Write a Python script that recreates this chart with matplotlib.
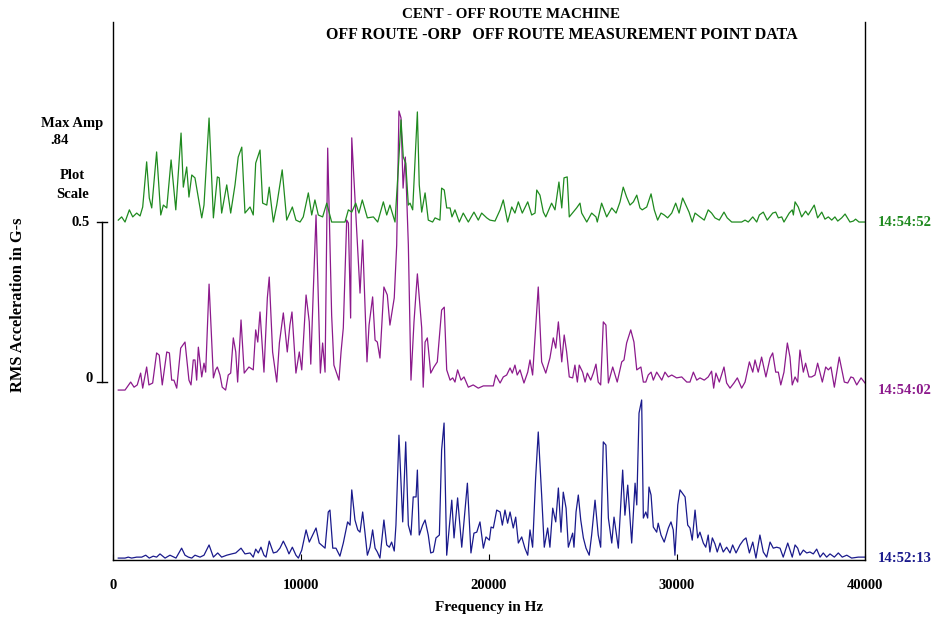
import numpy as np
import matplotlib
matplotlib.use("Agg")
import matplotlib.pyplot as plt
import matplotlib.transforms as mtransforms

plt.rcParams['font.family'] = ['Liberation Serif', 'DejaVu Serif']
plt.rcParams['font.weight'] = 'bold'

# spectrum taken at 14:54:52 (top trace)
freq_5452 = [280, 460, 640, 870, 1050, 1260, 1440, 1580, 1790, 1930, 2060, 2320, 2540, 2680, 2860, 3090,
             3340, 3620, 3740, 3920, 4040, 4190, 4360, 4540, 4720, 4840, 5110, 5340, 5550, 5650, 5780, 6050,
             6260, 6490, 6660, 6850, 7020, 7290, 7460, 7590, 7820, 7960, 8180, 8310, 8530, 8710, 9000, 9240,
             9540, 9730, 9950, 10120, 10390, 10570, 10740, 10920, 11150, 11370, 11630, 12070, 12340, 12520,
             12700, 12910, 13080, 13260, 13530, 13850, 14080, 14380, 14560, 14730, 15000, 15180, 15320, 15440,
             15570, 15710, 15800, 15940, 16190, 16290, 16420, 16600, 16770, 17000, 17130, 17390, 17480, 17620,
             17750, 17930, 18030, 18190, 18420, 18630, 18900, 19200, 19430, 19610, 19880, 20050, 20320, 20590,
             20760, 20990, 21210, 21380, 21560, 21770, 22060, 22270, 22450, 22540, 22710, 22890, 23020, 23330,
             23510, 23720, 23870, 23990, 24160, 24270, 24480, 24660, 24840, 24930, 25200, 25460, 25690, 25760,
             25990, 26260, 26530, 26760, 26970, 27140, 27320, 27500, 27680, 27860, 28030, 28150, 28390, 28620,
             28790, 28970, 29150, 29320, 29500, 29720, 29930, 30110, 30300, 30520, 30640, 30810, 30960, 31220,
             31450, 31660, 31840, 32020, 32250, 32500, 32670, 32910, 33440, 33620, 33790, 34030, 34240, 34380,
             34590, 34800, 35090, 35250, 35390, 35570, 35690, 35970, 36130, 36190, 36280, 36450, 36630, 36840,
             36980, 37300, 37480, 37700, 37870, 38050, 38230, 38400, 38550, 38760, 38940, 39200, 39380, 39500,
             39680, 40000]
amp_5452 = [0.006, 0.016, 0.0, 0.038, 0.016, 0.028, 0.019, 0.047, 0.188, 0.075, 0.044, 0.219, 0.022, 0.053,
            0.044, 0.194, 0.038, 0.278, 0.109, 0.172, 0.078, 0.147, 0.138, 0.075, 0.013, 0.053, 0.325, 0.013,
            0.141, 0.138, 0.028, 0.116, 0.028, 0.116, 0.203, 0.234, 0.028, 0.047, 0.022, 0.184, 0.225, 0.059,
            0.053, 0.109, 0.0, 0.053, 0.163, 0.006, 0.047, 0.006, 0.0, 0.016, 0.091, 0.022, 0.069, 0.022,
            0.016, 0.059, 0.0, 0.0, 0.0, 0.038, 0.031, 0.059, 0.028, 0.069, 0.013, 0.016, 0.0, 0.063, 0.022,
            0.053, 0.0, 0.172, 0.319, 0.203, 0.184, 0.053, 0.059, 0.038, 0.344, 0.116, 0.031, 0.091, 0.006,
            0.0, 0.013, 0.006, 0.106, 0.1, 0.044, 0.044, 0.016, 0.038, 0.0, 0.028, 0.0, 0.031, 0.006, 0.028,
            0.013, 0.006, 0.003, 0.038, 0.069, 0.0, 0.047, 0.028, 0.063, 0.028, 0.063, 0.022, 0.028, 0.1,
            0.084, 0.031, 0.016, 0.059, 0.038, 0.125, 0.044, 0.138, 0.141, 0.016, 0.031, 0.044, 0.059, 0.028,
            0.0, 0.028, 0.016, 0.0, 0.059, 0.016, 0.044, 0.028, 0.063, 0.109, 0.078, 0.053, 0.063, 0.084,
            0.044, 0.038, 0.047, 0.088, 0.038, 0.006, 0.028, 0.022, 0.013, 0.028, 0.059, 0.028, 0.075, 0.047,
            0.031, 0.0, 0.028, 0.016, 0.006, 0.038, 0.028, 0.013, 0.006, 0.031, 0.013, 0.0, 0.0, 0.006, 0.0,
            0.016, 0.0, 0.022, 0.031, 0.006, 0.028, 0.031, 0.013, 0.016, 0.0, 0.028, 0.038, 0.022, 0.063,
            0.047, 0.016, 0.034, 0.022, 0.053, 0.013, 0.031, 0.009, 0.016, 0.006, 0.016, 0.003, 0.013, 0.025,
            0.0, 0.003, 0.009, 0.0, 0.0]

# spectrum taken at 14:54:02 (middle trace)
freq_5402 = [280, 640, 940, 1120, 1290, 1470, 1580, 1790, 1910, 2110, 2320, 2460, 2620, 2860, 3000, 3120,
             3240, 3390, 3600, 3830, 4040, 4150, 4270, 4360, 4450, 4540, 4720, 4840, 4930, 5110, 5340, 5460,
             5550, 5690, 5810, 5990, 6130, 6260, 6400, 6530, 6630, 6810, 6980, 7230, 7460, 7590, 7700, 7820,
             8030, 8210, 8310, 8490, 8710, 8850, 9060, 9270, 9410, 9520, 9730, 9910, 10040, 10270, 10440,
             10520, 10650, 10800, 11030, 11150, 11280, 11420, 11630, 11750, 12020, 12130, 12250, 12430, 12520,
             12640, 12700, 12910, 13140, 13280, 13510, 13620, 13810, 13940, 14060, 14200, 14410, 14590, 14730,
             14960, 15090, 15210, 15320, 15430, 15550, 15710, 15850, 16010, 16190, 16420, 16500, 16600, 16720,
             16900, 17070, 17250, 17480, 17620, 17750, 17930, 18070, 18190, 18330, 18510, 18670, 18900, 19160,
             19430, 19700, 20050, 20230, 20360, 20590, 20760, 20940, 21120, 21240, 21380, 21500, 21650, 21860,
             22060, 22180, 22320, 22480, 22620, 22800, 23020, 23240, 23420, 23550, 23690, 23870, 24000, 24130,
             24270, 24450, 24570, 24700, 24800, 24980, 25110, 25230, 25410, 25550, 25690, 25810, 25940, 26080,
             26220, 26350, 26580, 26820, 27060, 27180, 27320, 27540, 27710, 27860, 28080, 28210, 28340, 28470,
             28620, 28740, 28920, 29190, 29360, 29540, 29720, 29980, 30250, 30520, 30690, 30870, 31050, 31220,
             31450, 31660, 31840, 31950, 32070, 32250, 32500, 32640, 32820, 33030, 33210, 33440, 33620, 33850,
             34030, 34150, 34320, 34500, 34730, 34950, 35090, 35250, 35390, 35520, 35690, 35870, 36010, 36130,
             36280, 36420, 36540, 36720, 36840, 37020, 37160, 37340, 37480, 37730, 37910, 38050, 38190, 38370,
             38630, 38900, 39080, 39250, 39380, 39560, 39790, 40000]
amp_5402 = [0.0, 0.0, 0.025, 0.009, 0.016, 0.053, 0.006, 0.072, 0.016, 0.022, 0.116, 0.109, 0.016, 0.119,
            0.116, 0.031, 0.031, 0.006, 0.131, 0.15, 0.031, 0.016, 0.094, 0.094, 0.031, 0.134, 0.041, 0.084,
            0.056, 0.331, 0.038, 0.063, 0.072, 0.047, 0.009, 0.0, 0.047, 0.053, 0.163, 0.119, 0.025, 0.219,
            0.053, 0.072, 0.063, 0.188, 0.15, 0.244, 0.056, 0.288, 0.353, 0.119, 0.025, 0.147, 0.241, 0.119,
            0.203, 0.244, 0.053, 0.119, 0.063, 0.297, 0.213, 0.081, 0.303, 0.547, 0.053, 0.147, 0.056, 0.756,
            0.234, 0.078, 0.031, 0.119, 0.194, 0.531, 0.522, 0.225, 0.788, 0.556, 0.303, 0.469, 0.088, 0.203,
            0.291, 0.156, 0.15, 0.1, 0.322, 0.297, 0.203, 0.288, 0.453, 0.872, 0.85, 0.631, 0.728, 0.453,
            0.031, 0.213, 0.363, 0.194, 0.009, 0.15, 0.163, 0.053, 0.072, 0.088, 0.25, 0.259, 0.063, 0.031,
            0.038, 0.025, 0.063, 0.031, 0.041, 0.009, 0.016, 0.006, 0.013, 0.013, 0.013, 0.047, 0.022, 0.041,
            0.047, 0.069, 0.053, 0.078, 0.047, 0.063, 0.022, 0.056, 0.094, 0.047, 0.194, 0.322, 0.088, 0.053,
            0.1, 0.163, 0.131, 0.213, 0.088, 0.172, 0.119, 0.041, 0.038, 0.078, 0.025, 0.078, 0.056, 0.025,
            0.053, 0.031, 0.053, 0.081, 0.025, 0.016, 0.213, 0.203, 0.022, 0.072, 0.025, 0.088, 0.094, 0.147,
            0.188, 0.15, 0.063, 0.072, 0.025, 0.025, 0.047, 0.056, 0.031, 0.056, 0.031, 0.056, 0.041, 0.047,
            0.038, 0.041, 0.025, 0.025, 0.056, 0.031, 0.038, 0.031, 0.041, 0.059, 0.006, 0.053, 0.025, 0.072,
            0.022, 0.006, 0.022, 0.038, 0.006, 0.025, 0.088, 0.056, 0.094, 0.056, 0.103, 0.041, 0.1, 0.116,
            0.056, 0.056, 0.016, 0.056, 0.147, 0.103, 0.016, 0.041, 0.025, 0.125, 0.056, 0.084, 0.041, 0.041,
            0.047, 0.084, 0.025, 0.072, 0.063, 0.072, 0.009, 0.103, 0.025, 0.022, 0.041, 0.038, 0.016, 0.038,
            0.022]

# spectrum taken at 14:52:13 (bottom trace)
freq_5213 = [280, 640, 810, 990, 1260, 1530, 1740, 1930, 2140, 2320, 2500, 2770, 3030, 3350, 3650, 3830,
             4010, 4190, 4360, 4630, 4840, 5110, 5340, 5570, 5780, 6050, 6310, 6530, 6810, 7020, 7290, 7460,
             7590, 7730, 7870, 8030, 8140, 8310, 8530, 8710, 8880, 9060, 9240, 9360, 9540, 9730, 9860, 10040,
             10270, 10440, 10620, 10800, 10970, 11280, 11450, 11540, 11690, 11860, 12070, 12250, 12480, 12610,
             12700, 12870, 13020, 13140, 13280, 13400, 13530, 13670, 13810, 13940, 14060, 14200, 14410, 14560,
             14700, 14820, 14960, 15050, 15210, 15410, 15570, 15710, 15850, 15970, 16120, 16190, 16290, 16470,
             16600, 16770, 16900, 17040, 17180, 17360, 17480, 17610, 17750, 18020, 18140, 18330, 18550, 18850,
             19040, 19200, 19350, 19520, 19700, 19840, 20020, 20110, 20230, 20410, 20590, 20710, 20850, 20990,
             21120, 21290, 21420, 21560, 21740, 21910, 22060, 22180, 22320, 22480, 22620, 22800, 22940, 23120,
             23240, 23390, 23550, 23690, 23830, 23950, 24100, 24220, 24450, 24520, 24630, 24750, 24880, 25020,
             25160, 25330, 25460, 25640, 25810, 25940, 26080, 26220, 26350, 26530, 26650, 26880, 27110, 27230,
             27380, 27590, 27770, 27860, 27980, 28120, 28210, 28340, 28440, 28510, 28620, 28740, 28920, 29000,
             29150, 29320, 29540, 29680, 29800, 29890, 30040, 30160, 30280, 30430, 30570, 30690, 30810, 30960,
             31100, 31220, 31400, 31530, 31660, 31750, 31880, 32020, 32140, 32290, 32460, 32640, 32820, 32960,
             33140, 33350, 33530, 33670, 33850, 34030, 34200, 34410, 34590, 34770, 34950, 35120, 35300, 35480,
             35650, 35890, 36010, 36130, 36280, 36420, 36540, 36720, 36900, 37070, 37250, 37430, 37610, 37780,
             37960, 38140, 38370, 38580, 38790, 39030, 39290, 39640, 40000]
amp_5213 = [0.0, 0.0, 0.003, 0.0, 0.003, 0.003, 0.009, 0.0, 0.006, 0.003, 0.013, 0.0, 0.009, 0.0, 0.031,
            0.009, 0.003, 0.0, 0.009, 0.003, 0.009, 0.041, 0.003, 0.016, 0.003, 0.009, 0.013, 0.016, 0.031,
            0.013, 0.016, 0.003, 0.028, 0.016, 0.034, 0.009, 0.003, 0.053, 0.016, 0.019, 0.031, 0.053, 0.031,
            0.013, 0.034, 0.009, 0.0, 0.025, 0.088, 0.05, 0.072, 0.094, 0.047, 0.031, 0.144, 0.15, 0.031,
            0.031, 0.006, 0.047, 0.113, 0.103, 0.213, 0.119, 0.088, 0.081, 0.144, 0.081, 0.009, 0.034, 0.088,
            0.031, 0.019, 0.0, 0.119, 0.041, 0.034, 0.05, 0.022, 0.103, 0.384, 0.113, 0.363, 0.103, 0.072,
            0.191, 0.191, 0.275, 0.072, 0.103, 0.119, 0.072, 0.016, 0.019, 0.063, 0.072, 0.338, 0.422, 0.009,
            0.181, 0.063, 0.188, 0.034, 0.234, 0.016, 0.078, 0.081, 0.113, 0.031, 0.066, 0.056, 0.097, 0.094,
            0.15, 0.144, 0.103, 0.15, 0.109, 0.144, 0.094, 0.128, 0.047, 0.066, 0.031, 0.009, 0.088, 0.034,
            0.25, 0.394, 0.197, 0.034, 0.094, 0.034, 0.156, 0.113, 0.219, 0.081, 0.206, 0.156, 0.034, 0.078,
            0.034, 0.144, 0.197, 0.119, 0.063, 0.031, 0.009, 0.072, 0.181, 0.072, 0.034, 0.363, 0.353, 0.125,
            0.047, 0.128, 0.031, 0.275, 0.134, 0.228, 0.047, 0.234, 0.166, 0.453, 0.494, 0.125, 0.144, 0.125,
            0.222, 0.197, 0.097, 0.081, 0.109, 0.072, 0.05, 0.094, 0.113, 0.088, 0.009, 0.166, 0.213, 0.203,
            0.191, 0.103, 0.094, 0.056, 0.15, 0.063, 0.081, 0.047, 0.034, 0.072, 0.019, 0.063, 0.044, 0.019,
            0.047, 0.019, 0.034, 0.016, 0.041, 0.016, 0.041, 0.056, 0.063, 0.016, 0.05, 0.0, 0.072, 0.019,
            0.003, 0.05, 0.031, 0.034, 0.031, 0.003, 0.047, 0.025, 0.003, 0.041, 0.031, 0.009, 0.025, 0.016,
            0.019, 0.013, 0.028, 0.003, 0.016, 0.003, 0.013, 0.003, 0.016, 0.003, 0.009, 0.0, 0.003, 0.003]

times = ['14:52:13', '14:54:02', '14:54:52']
colors = ['#1a1a8c', '#8c1a8c', '#1f8a1f']
offsets = [0.0, 0.525, 1.05]   # waterfall step in G-s
max_amp = '.84'

fig = plt.figure(figsize=(9.31, 6.19), dpi=100)
ax = fig.add_axes([113 / 931, 1 - 560 / 619, 752 / 931, 538 / 619])

traces = [(freq_5213, amp_5213), (freq_5402, amp_5402), (freq_5452, amp_5452)]
for (f, a), c, off, t in zip(traces, colors, offsets, times):
    ax.plot(f, np.array(a) + off, color=c, lw=0.9)
    ax.text(1.017, off, t, transform=mtransforms.blended_transform_factory(ax.transAxes, ax.transData),
            color=c, fontsize=10.5, fontweight='bold', va='center', ha='left')

ax.set_xlim(0, 40000)
ax.set_ylim(-0.006, 1.675)
ax.set_xticks([0, 10000, 20000, 30000, 40000])
ax.set_xticklabels(['0', '10000', '20000', '30000', '40000'], fontsize=10.5, fontweight='bold')
ax.set_yticks([])
ax.tick_params(axis='x', direction='in', length=4, pad=14)
ax.spines['top'].set_visible(False)
for s in ['left', 'right', 'bottom']:
    ax.spines[s].set_linewidth(1.0)
ax.set_xlabel('Frequency in Hz', fontsize=11, fontweight='bold', labelpad=6)

# plot scale bar on the left, 0 .. 0.5 G-s
tr = mtransforms.blended_transform_factory(ax.transAxes, ax.transData)
y0, y1 = 0.55, 1.05
ax.plot([-0.0146, -0.0146], [y0, y1], color='k', lw=1.0, transform=tr, clip_on=False)
for yy in (y0, y1):
    ax.plot([-0.0213, -0.008], [yy, yy], color='k', lw=1.0, transform=tr, clip_on=False)
ax.text(-0.031, y1, '0.5', transform=tr, ha='right', va='center', fontsize=10.5, fontweight='bold')
ax.text(-0.027, y0 + 0.01, '0', transform=tr, ha='right', va='center', fontsize=10.5, fontweight='bold')

fig.text(72 / 931, 1 - 123 / 619, 'Max Amp', ha='center', va='center', fontsize=10.5, fontweight='bold')
fig.text(50 / 931, 1 - 141 / 619, max_amp, ha='left', va='center', fontsize=10.5, fontweight='bold')
fig.text(72 / 931, 1 - 175 / 619, 'Plot', ha='center', va='center', fontsize=10.5, fontweight='bold')
fig.text(73 / 931, 1 - 195 / 619, 'Scale', ha='center', va='center', fontsize=10.5, fontweight='bold')
fig.text(18 / 931, 1 - 305 / 619, 'RMS Acceleration in G-s', rotation=90, ha='center', va='center',
         fontsize=11.8, fontweight='bold')

fig.text(511 / 931, 1 - 15 / 619, 'CENT - OFF ROUTE MACHINE', ha='center', va='center',
         fontsize=10.8, fontweight='bold')
fig.text(562 / 931, 1 - 35 / 619, 'OFF ROUTE -ORP   OFF ROUTE MEASUREMENT POINT DATA', ha='center',
         va='center', fontsize=11.5, fontweight='bold')

fig.savefig('out.png', dpi=100)
